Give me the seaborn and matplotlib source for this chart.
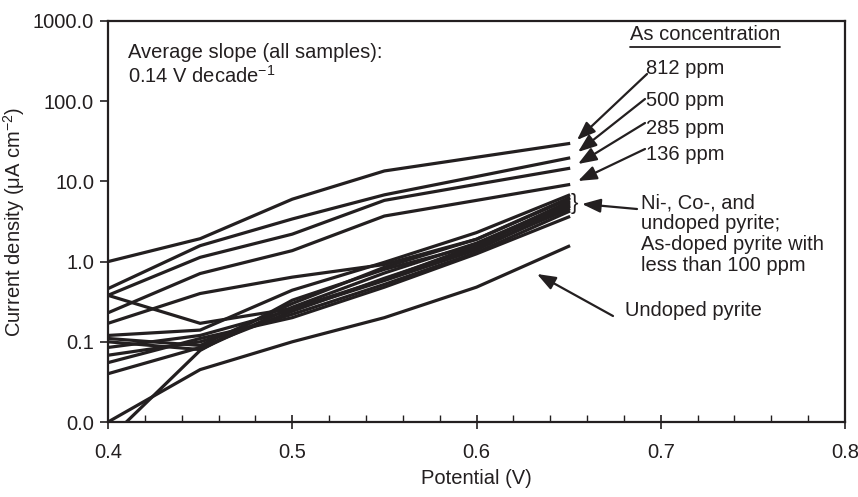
import numpy as np
import pandas as pd
import matplotlib
matplotlib.use("Agg")
import matplotlib.pyplot as plt
from matplotlib.ticker import FixedLocator, NullLocator, FuncFormatter, MultipleLocator
import seaborn as sns

# ---------------- data ----------------
potential = [0.40, 0.45, 0.50, 0.55, 0.60, 0.65]

as_812 = [1.00, 1.93, 6.0, 13.5, 20.0, 29.6]
as_500 = [0.46, 1.58, 3.4, 6.8, 11.5, 19.5]
as_285 = [0.38, 1.13, 2.2, 5.8, 9.2, 14.5]
as_136 = [0.23, 0.71, 1.37, 3.7, 5.8, 9.1]

mid_flat = [0.17, 0.40, 0.64, 0.92, 1.9, 6.2]
mid_desc = [0.38, 0.17, 0.26, 0.60, 1.6, 5.6]
mid_a = [0.12, 0.14, 0.44, 0.98, 2.3, 6.7]
mid_b = [0.11, 0.09, 0.30, 0.85, 1.9, 6.0]
mid_c = [0.10, 0.08, 0.27, 0.72, 1.7, 5.3]
mid_d = [0.085, 0.12, 0.25, 0.58, 1.4, 4.8]
mid_e = [0.068, 0.10, 0.22, 0.52, 1.3, 4.2]
mid_f = [0.055, 0.11, 0.20, 0.48, 1.25, 3.6]
mid_g = [0.04, 0.085, 0.24, 0.62, 1.5, 4.5]
mid_h = [0.006, 0.078, 0.33, 0.80, 1.6, 5.0]
undoped = [0.01, 0.045, 0.10, 0.20, 0.48, 1.55]

series = {
    "812 ppm": as_812, "500 ppm": as_500, "285 ppm": as_285, "136 ppm": as_136,
    "flat": mid_flat, "desc": mid_desc, "a": mid_a, "b": mid_b, "c": mid_c,
    "d": mid_d, "e": mid_e, "f": mid_f, "g": mid_g, "h": mid_h,
    "undoped": undoped,
}

ytick_vals = [0.01, 0.1, 1, 10, 100, 1000]
xtick_vals = [0.4, 0.5, 0.6, 0.7, 0.8]

rows = []
for name, vals in series.items():
    for x, y in zip(potential, vals):
        rows.append({"sample": name, "Potential": x, "Current": y})
df = pd.DataFrame(rows)

# ---------------- style ----------------
sns.set_style("ticks")
plt.rcParams["font.family"] = ["Liberation Sans", "DejaVu Sans"]
plt.rcParams["mathtext.fontset"] = "custom"
plt.rcParams["mathtext.rm"] = "Liberation Sans"
plt.rcParams["mathtext.it"] = "Liberation Sans"
plt.rcParams["mathtext.default"] = "regular"

INK = "#231f20"
FS = 14.5

W, H = 858, 497
fig = plt.figure(figsize=(W / 100, H / 100), dpi=100)
L, R, T, B = 108, 845, 21, 422
ax = fig.add_axes([L / W, 1 - B / H, (R - L) / W, (B - T) / H])

sns.lineplot(data=df, x="Potential", y="Current", units="sample", estimator=None,
             color=INK, linewidth=2.3, ax=ax, legend=False)
for ln in ax.lines:
    ln.set_solid_capstyle("projecting")
    ln.set_solid_joinstyle("miter")

ax.set_yscale("log")
ax.set_xlim(0.4, 0.8)
ax.set_ylim(0.01, 1000)
ax.yaxis.set_major_locator(FixedLocator(ytick_vals))
ax.yaxis.set_minor_locator(NullLocator())
ax.yaxis.set_major_formatter(FuncFormatter(lambda v, p: f"{v:.1f}"))
ax.xaxis.set_major_locator(FixedLocator(xtick_vals))
ax.xaxis.set_minor_locator(MultipleLocator(0.02))
ax.xaxis.set_major_formatter(FuncFormatter(lambda v, p: f"{v:.1f}"))

for s in ax.spines.values():
    s.set_visible(True)
    s.set_color(INK)
    s.set_linewidth(1.6)

ax.tick_params(axis="y", which="major", direction="out", length=6, width=1.2,
               color=INK, labelsize=FS, labelcolor=INK, pad=4)
ax.tick_params(axis="x", which="major", direction="inout", length=10, width=1.2,
               color=INK, labelsize=FS, labelcolor=INK, pad=10)
ax.tick_params(axis="x", which="minor", direction="in", length=5, width=1.0,
               color=INK)

ax.set_xlabel("Potential (V)", fontsize=FS, color=INK, labelpad=5)
ax.set_ylabel("Current density (μA cm$^{-2}$)", fontsize=FS, color=INK)


def af(px, py):
    """pixel position in the figure -> axes fraction"""
    return ((px - L) / (R - L), (B - py) / (B - T))


ax.yaxis.set_label_coords(af(27, 0)[0], (B - 222) / (B - T))

# Texts
ax.text(*af(128, 52), "Average slope (all samples):", fontsize=FS, color=INK,
        ha="left", va="center", transform=ax.transAxes)
ax.text(*af(128, 76), "0.14 V decade$^{-1}$", fontsize=FS, color=INK,
        ha="left", va="center", transform=ax.transAxes)

head = ax.text(*af(705, 35), "As concentration", fontsize=FS, color=INK,
               ha="center", va="center", transform=ax.transAxes)

labels = [("812 ppm", 68, (647, 74), (577, 140)),
          ("500 ppm", 100, (645, 99), (578, 152)),
          ("285 ppm", 128, (645, 123), (578, 164)),
          ("136 ppm", 155, (645, 149), (578, 181))]
ap = dict(arrowstyle="-|>,head_length=0.8,head_width=0.3", color=INK, lw=1.6,
          shrinkA=0, shrinkB=0, mutation_scale=14)
for txt, ty, tail, tip in labels:
    ax.text(*af(646, ty), txt, fontsize=FS, color=INK, ha="left", va="center",
            transform=ax.transAxes)
    ax.annotate("", xy=af(*tip), xycoords="axes fraction",
                xytext=af(*tail), textcoords="axes fraction", arrowprops=ap)

ax.text(*af(641, 234), "Ni-, Co-, and\nundoped pyrite;\nAs-doped pyrite with\nless than 100 ppm",
        fontsize=FS, color=INK, ha="left", va="center", linespacing=1.12,
        transform=ax.transAxes)
ax.annotate("", xy=af(582, 204), xycoords="axes fraction",
            xytext=af(637, 209), textcoords="axes fraction", arrowprops=ap)
ax.text(*af(574, 203), "}", fontsize=16, color=INK, ha="center", va="center",
        transform=ax.transAxes)

ax.text(*af(625, 311), "Undoped pyrite", fontsize=FS, color=INK, ha="left",
        va="center", transform=ax.transAxes)
ax.annotate("", xy=af(537, 274), xycoords="axes fraction",
            xytext=af(613, 316), textcoords="axes fraction", arrowprops=ap)

# underline for the heading
fig.canvas.draw()
bb = head.get_window_extent().transformed(ax.transAxes.inverted())
ax.plot([bb.x0, bb.x1], [bb.y0 - 0.005, bb.y0 - 0.005], color=INK, lw=1.3,
        transform=ax.transAxes, clip_on=False)

fig.savefig("out.png", dpi=100)
